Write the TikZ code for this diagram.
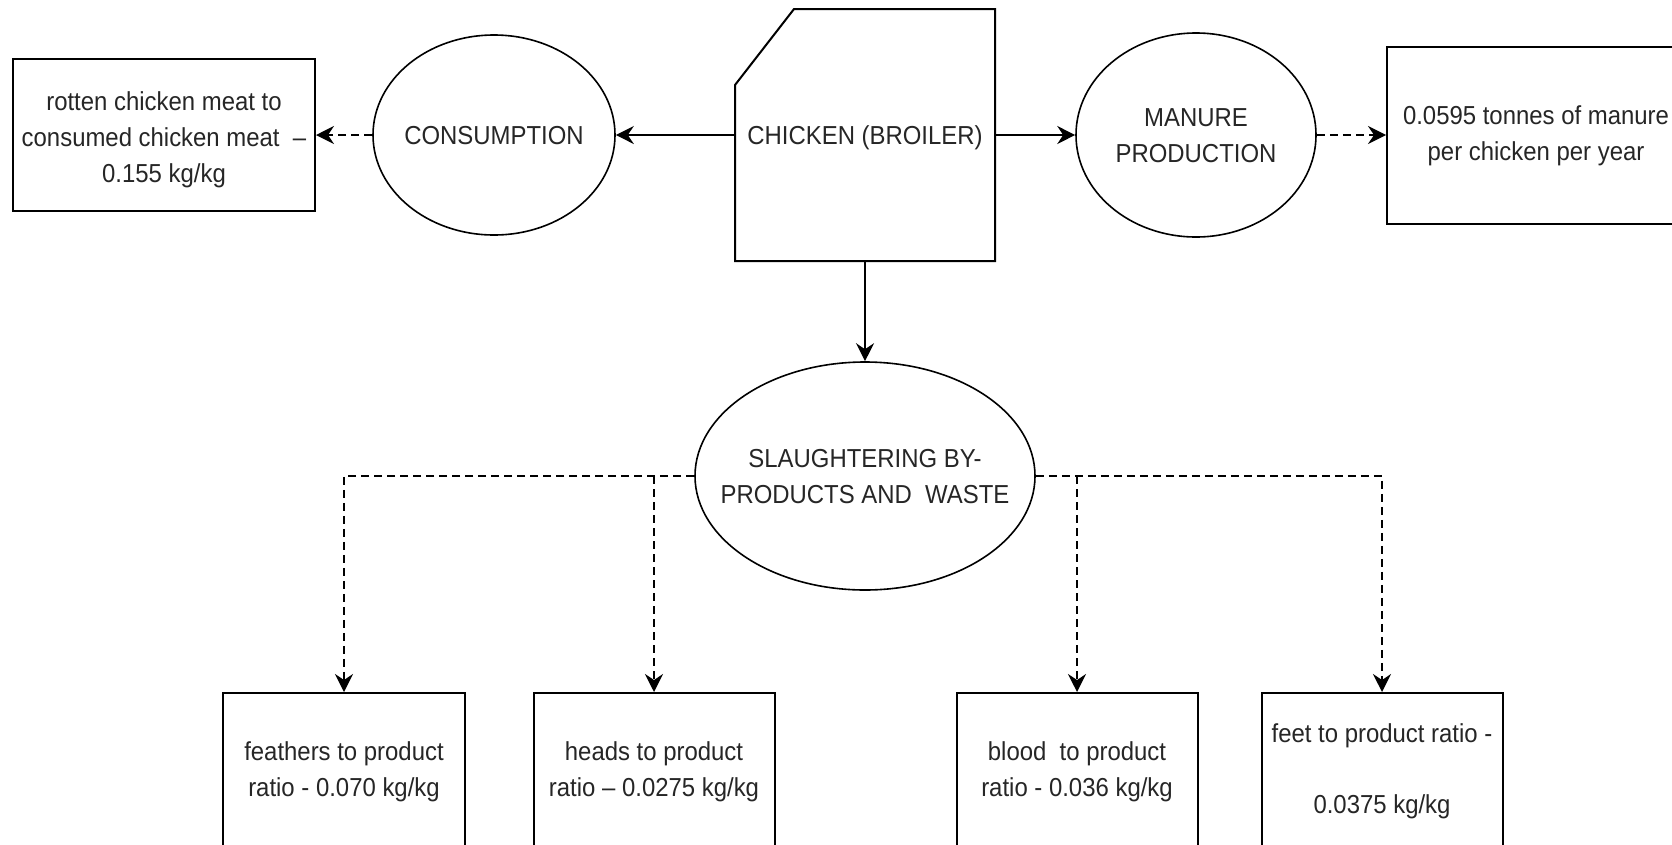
\documentclass[tikz,border=0pt]{standalone}
\usepackage{fontspec}
\setmainfont{Liberation Sans}[FakeStretch=0.92]
\usetikzlibrary{shapes.geometric,arrows.meta}
\begin{document}
\begin{tikzpicture}[x=1pt,y=-1pt,
  every node/.style={font=\fontsize{26}{36}\selectfont, text=black!85},
  ell/.style={draw, ellipse, line width=1.6pt, inner sep=0pt},
  box/.style={draw, rectangle, line width=2pt, inner sep=0pt},
  txt/.style={align=center, inner sep=0pt},
  arr/.style={line width=1.6pt, -{Stealth[length=18pt,width=18pt,inset=6pt]}},
  dsh/.style={arr, dash pattern=on 8pt off 5pt}]
\useasboundingbox (0,0) rectangle (1672,844);
\clip (0,0) rectangle (1672,844);
\fill[white] (0,0) rectangle (1672,844);
% chicken shape
\draw[line width=2pt] (794,9) -- (995,9) -- (995,261) -- (735,261) -- (735,85) -- cycle;
\node[inner sep=0pt, minimum width=260pt, minimum height=252pt] (chicken) at (865,135) {};
\node[txt] at ([yshift=-3pt]chicken.center) {CHICKEN (BROILER)};
% ellipses
\node[ell, minimum width=242pt, minimum height=200pt] (cons) at (494,135) {};
\node[txt] at ([yshift=-1pt]cons.center) {CONSUMPTION};
\node[ell, minimum width=240pt, minimum height=204pt] (manure) at (1196,135) {};
\node[txt] at ([yshift=-1pt]manure.center) {MANURE\\PRODUCTION};
\node[ell, minimum width=340pt, minimum height=228pt] (slaughter) at (865,476) {};
\node[txt] at ([yshift=-1pt]slaughter.center) {SLAUGHTERING BY-\\PRODUCTS AND\ \ WASTE};
% boxes
\node[box, minimum width=302pt, minimum height=152pt] (rotten) at (164,135) {};
\node[txt] at ([yshift=-5pt]rotten.center) {rotten chicken meat to\\consumed chicken meat\ \ \textendash\\0.155 kg/kg};
\node[box, minimum width=298pt, minimum height=177pt] (mbox) at (1536,135.5) {};
\node[txt] at ([yshift=-0.5pt]mbox.center) {0.0595 tonnes of manure\\per chicken per year};
\node[box, minimum width=242pt, minimum height=156pt] (feathers) at (344,771) {};
\node[txt] at ([yshift=-1pt]feathers.center) {feathers to product\\ratio - 0.070 kg/kg};
\node[box, minimum width=241pt, minimum height=156pt] (heads) at (654,771) {};
\node[txt] at ([yshift=-1pt]heads.center) {heads to product\\ratio \textendash{} 0.0275 kg/kg};
\node[box, minimum width=241pt, minimum height=156pt] (blood) at (1077,771) {};
\node[txt] at ([yshift=-1pt]blood.center) {blood\ \ to product\\ratio - 0.036 kg/kg};
\node[box, minimum width=241pt, minimum height=156pt] (feet) at (1382,771) {};
\node[txt] at (feet.center) {feet to product ratio -\\[35pt]0.0375 kg/kg};
% connectors
\draw[arr] (chicken.west) -- (cons.east);
\draw[dsh] (cons.west) -- (rotten.east);
\draw[arr] (chicken.east) -- (manure.west);
\draw[dsh] (manure.east) -- (manure.east -| mbox.west);
\draw[arr] (chicken.south) -- (slaughter.north);
\draw[dsh] (slaughter.west) -| (feathers.north);
\draw[dsh] (heads.north |- slaughter.west) -- (heads.north);
\draw[dsh] (slaughter.east) -| (feet.north);
\draw[dsh] (blood.north |- slaughter.east) -- (blood.north);
\end{tikzpicture}
\end{document}
